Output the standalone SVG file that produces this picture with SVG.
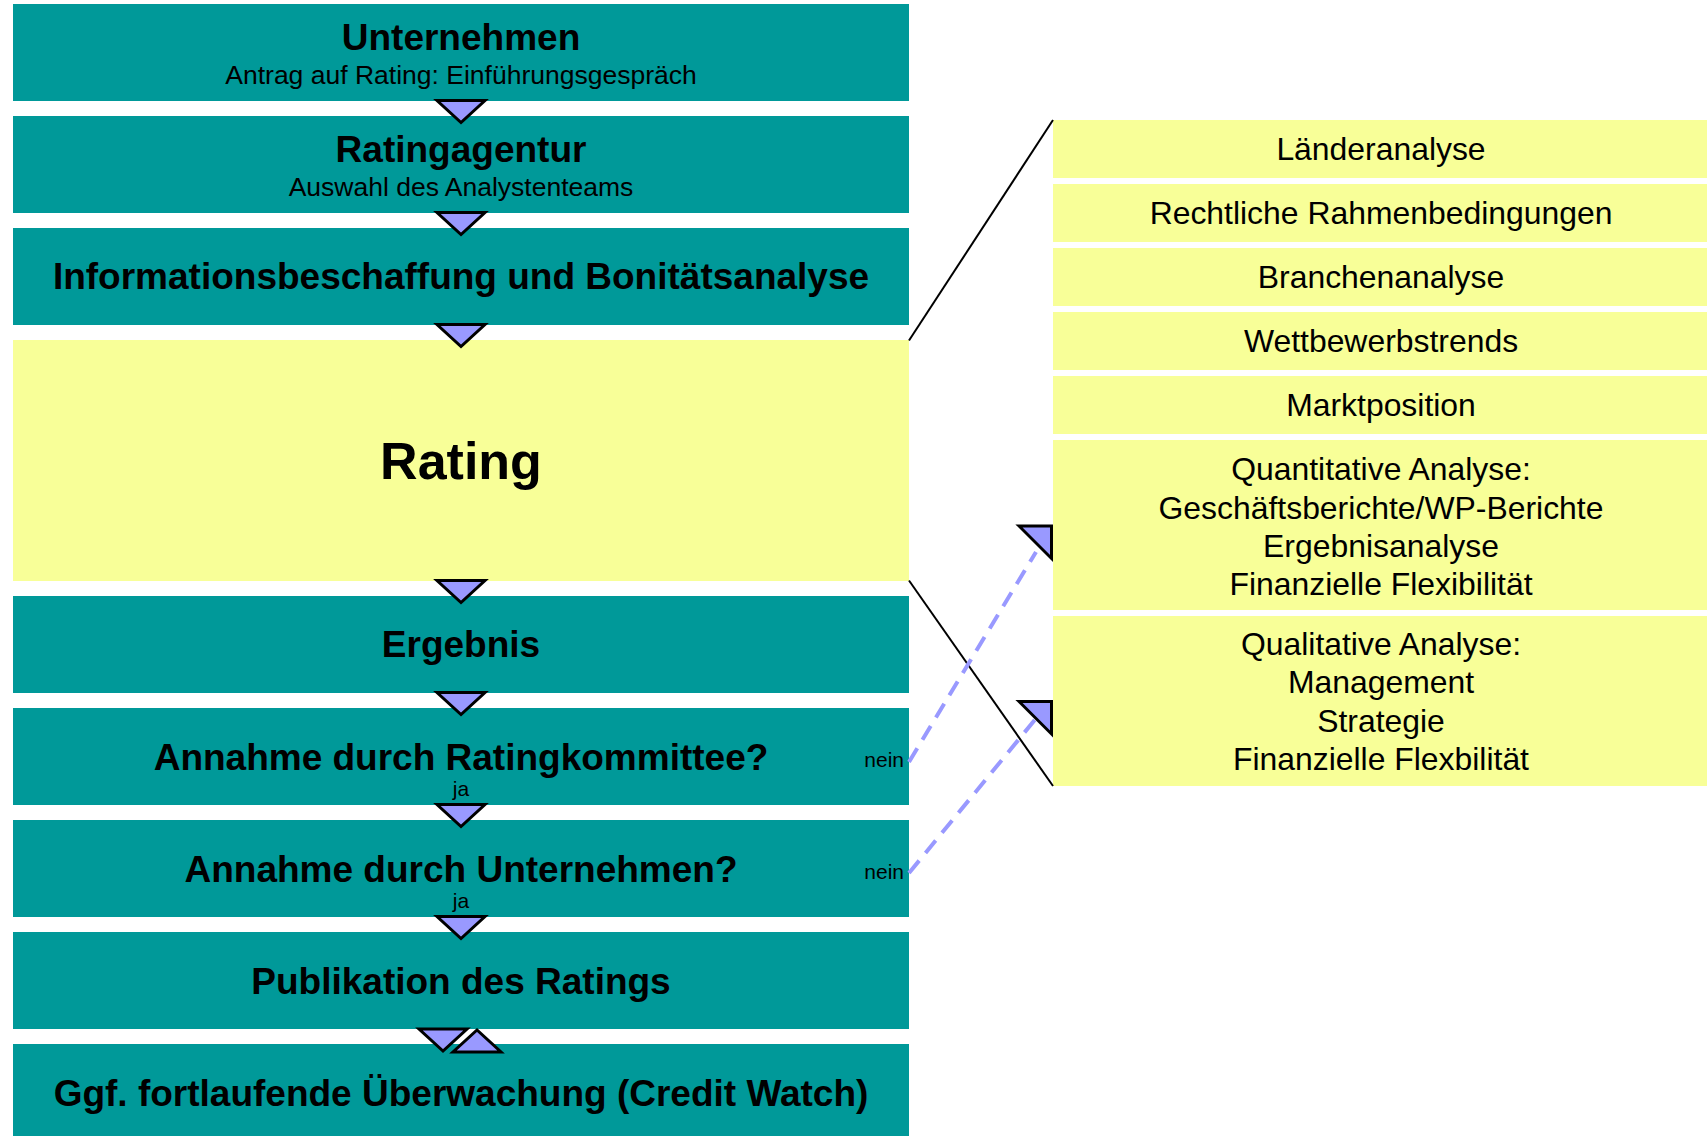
<svg xmlns="http://www.w3.org/2000/svg" width="1707" height="1136" viewBox="0 0 1707 1136">
<defs>
<style>
.teal{fill:#009999}
.yel{fill:#F8FF98}
.t{font-family:"Liberation Sans",Arial,sans-serif;fill:#000;text-anchor:middle}
.b{font-weight:bold;font-size:37px}
.s{font-size:26.5px}
.r{font-size:31.9px}
.lbl{font-family:"Liberation Sans",Arial,sans-serif;font-size:21px;fill:#000}
.tri{fill:#9999FF;stroke:#000;stroke-width:3;stroke-linejoin:miter}
.dash{stroke:#9999FF;stroke-width:4;stroke-dasharray:16 10;fill:none}
.ln{stroke:#000;stroke-width:2;fill:none}
</style>
</defs>
<rect width="1707" height="1136" fill="#fff"/>

<g id="n1"><rect class="teal" x="13" y="4" width="896" height="97"/>
<text class="t b" x="461" y="50">Unternehmen</text>
<text class="t s" x="461" y="84">Antrag auf Rating: Einführungsgespräch</text></g>

<g id="n2"><rect class="teal" x="13" y="116" width="896" height="97"/>
<text class="t b" x="461" y="162">Ratingagentur</text>
<text class="t s" x="461" y="196">Auswahl des Analystenteams</text></g>

<g id="n3"><rect class="teal" x="13" y="228" width="896" height="97"/>
<text class="t b" x="461" y="289">Informationsbeschaffung und Bonitätsanalyse</text></g>

<g id="n4"><rect class="yel" x="13" y="340" width="896" height="241"/>
<text class="t" x="461" y="479" font-weight="bold" font-size="52">Rating</text></g>

<g id="n5"><rect class="teal" x="13" y="596" width="896" height="97"/>
<text class="t b" x="461" y="657">Ergebnis</text></g>

<g id="n6"><rect class="teal" x="13" y="708" width="896" height="97"/>
<text class="t b" x="461" y="770">Annahme durch Ratingkommittee?</text></g>

<g id="n7"><rect class="teal" x="13" y="820" width="896" height="97"/>
<text class="t b" x="461" y="882">Annahme durch Unternehmen?</text></g>

<g id="n8"><rect class="teal" x="13" y="932" width="896" height="97"/>
<text class="t b" x="461" y="994">Publikation des Ratings</text></g>

<g id="n9"><rect class="teal" x="13" y="1044" width="896" height="97"/>
<text class="t b" x="461" y="1106">Ggf. fortlaufende Überwachung (Credit Watch)</text></g>

<g id="r1"><rect class="yel" x="1053" y="120" width="660" height="58"/>
<text class="t r" x="1381" y="160">Länderanalyse</text></g>
<g id="r2"><rect class="yel" x="1053" y="184" width="660" height="58"/>
<text class="t r" x="1381" y="224">Rechtliche Rahmenbedingungen</text></g>
<g id="r3"><rect class="yel" x="1053" y="248" width="660" height="58"/>
<text class="t r" x="1381" y="288">Branchenanalyse</text></g>
<g id="r4"><rect class="yel" x="1053" y="312" width="660" height="58"/>
<text class="t r" x="1381" y="352">Wettbewerbstrends</text></g>
<g id="r5"><rect class="yel" x="1053" y="376" width="660" height="58"/>
<text class="t r" x="1381" y="416">Marktposition</text></g>
<g id="r6"><rect class="yel" x="1053" y="440" width="660" height="170"/>
<text class="t r" x="1381" y="480">Quantitative Analyse:</text>
<text class="t r" x="1381" y="518.5">Geschäftsberichte/WP-Berichte</text>
<text class="t r" x="1381" y="557">Ergebnisanalyse</text>
<text class="t r" x="1381" y="595">Finanzielle Flexibilität</text></g>
<g id="r7"><rect class="yel" x="1053" y="616" width="660" height="170"/>
<text class="t r" x="1381" y="655">Qualitative Analyse:</text>
<text class="t r" x="1381" y="693">Management</text>
<text class="t r" x="1381" y="732">Strategie</text>
<text class="t r" x="1381" y="770">Finanzielle Flexbilität</text></g>

<g id="connectors">
<line class="ln" x1="909" y1="340.5" x2="1053" y2="120"/>
<line class="ln" x1="909" y1="580.5" x2="1053" y2="786"/>
<line class="dash" x1="909" y1="762" x2="1036" y2="552"/>
<line class="dash" x1="909" y1="873" x2="1038" y2="716"/>
<polygon class="tri" points="1019,526 1051.5,526 1051.5,558.5"/>
<polygon class="tri" points="1019,701.5 1051.5,701.5 1051.5,734"/>
<polygon class="tri" points="437,100.5 485,100.5 461,122.5"/>
<polygon class="tri" points="437,212.5 485,212.5 461,234.5"/>
<polygon class="tri" points="437,324.5 485,324.5 461,346.5"/>
<polygon class="tri" points="437,580.5 485,580.5 461,602.5"/>
<polygon class="tri" points="437,692.5 485,692.5 461,714.5"/>
<polygon class="tri" points="437,804.5 485,804.5 461,826.5"/>
<polygon class="tri" points="437,916.5 485,916.5 461,938.5"/>
<polygon class="tri" points="419,1029 467,1029 443,1051"/>
<polygon class="tri" points="453,1052 501,1052 477,1030"/>
<text class="lbl" x="904" y="767" text-anchor="end">nein</text>
<text class="lbl" x="904" y="879" text-anchor="end">nein</text>
<text class="lbl" x="461" y="796" text-anchor="middle">ja</text>
<text class="lbl" x="461" y="908" text-anchor="middle">ja</text>
</g>
</svg>
